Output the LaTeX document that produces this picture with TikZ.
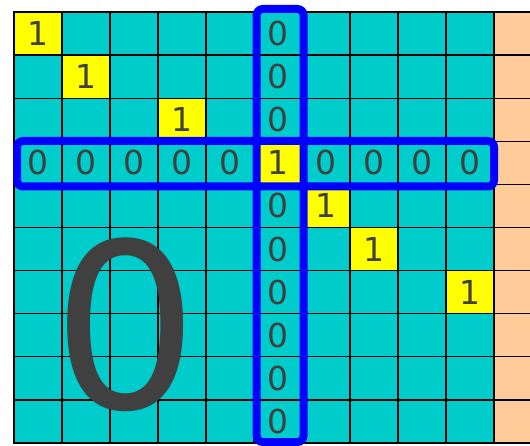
\documentclass[tikz,border=0pt]{standalone}
\usepackage{fontspec}
\setmainfont{DejaVu Sans}
\definecolor{cellcyan}{HTML}{00CCCC}
\definecolor{cellyellow}{HTML}{FFFF00}
\definecolor{peach}{HTML}{FFCC99}
\definecolor{digit}{HTML}{404040}
\definecolor{hlblue}{HTML}{0000FF}
\begin{document}
\begin{tikzpicture}[x=1pt,y=-1pt,
  cell/.style={draw=black, line width=1.2pt, minimum width=48pt, minimum height=43.1pt,
    inner sep=0pt, outer sep=0pt, anchor=north west,
    font=\fontsize{33}{33}\selectfont, text=digit},
  digitnode/.style={inner sep=0pt, font=\fontsize{33}{33}\selectfont, text=digit},
  highlight/.style={draw=hlblue, line width=8pt, rounded corners=6pt}]
\useasboundingbox (0,0) rectangle (530,446);
\begin{scope}
\clip (0,0) rectangle (530,446);
\foreach \r in {0,...,9} {
  \foreach \c in {0,...,9} {
    \node[cell, fill=cellcyan] (c-\r-\c) at ({14+48*\c},{12+43.1*\r}) {};
  }
  \node[cell, fill=peach] (p-\r) at (494,{12+43.1*\r}) {};
}
\foreach \r/\c in {0/0,1/1,2/3,3/5,4/6,5/7,6/9} {
  \node[cell, fill=cellyellow] (y-\r) at ({14+48*\c},{12+43.1*\r}) {1};
}
\foreach \r in {0,1,2,4,5,6,7,8,9} {
  \node[digitnode] (zc-\r) at (c-\r-5) {0};
}
\foreach \c in {0,1,2,3,4,6,7,8,9} {
  \node[digitnode] (zr-\c) at (c-3-\c) {0};
}
\node[inner sep=0pt, text=digit, font=\fontsize{230}{230}\selectfont] (big) at (125.5,325) {0};
\draw[highlight] (17,141) rectangle (494,186.5);
\draw[highlight] (256.7,9) rectangle (303.5,442);
\end{scope}
\end{tikzpicture}
\end{document}
